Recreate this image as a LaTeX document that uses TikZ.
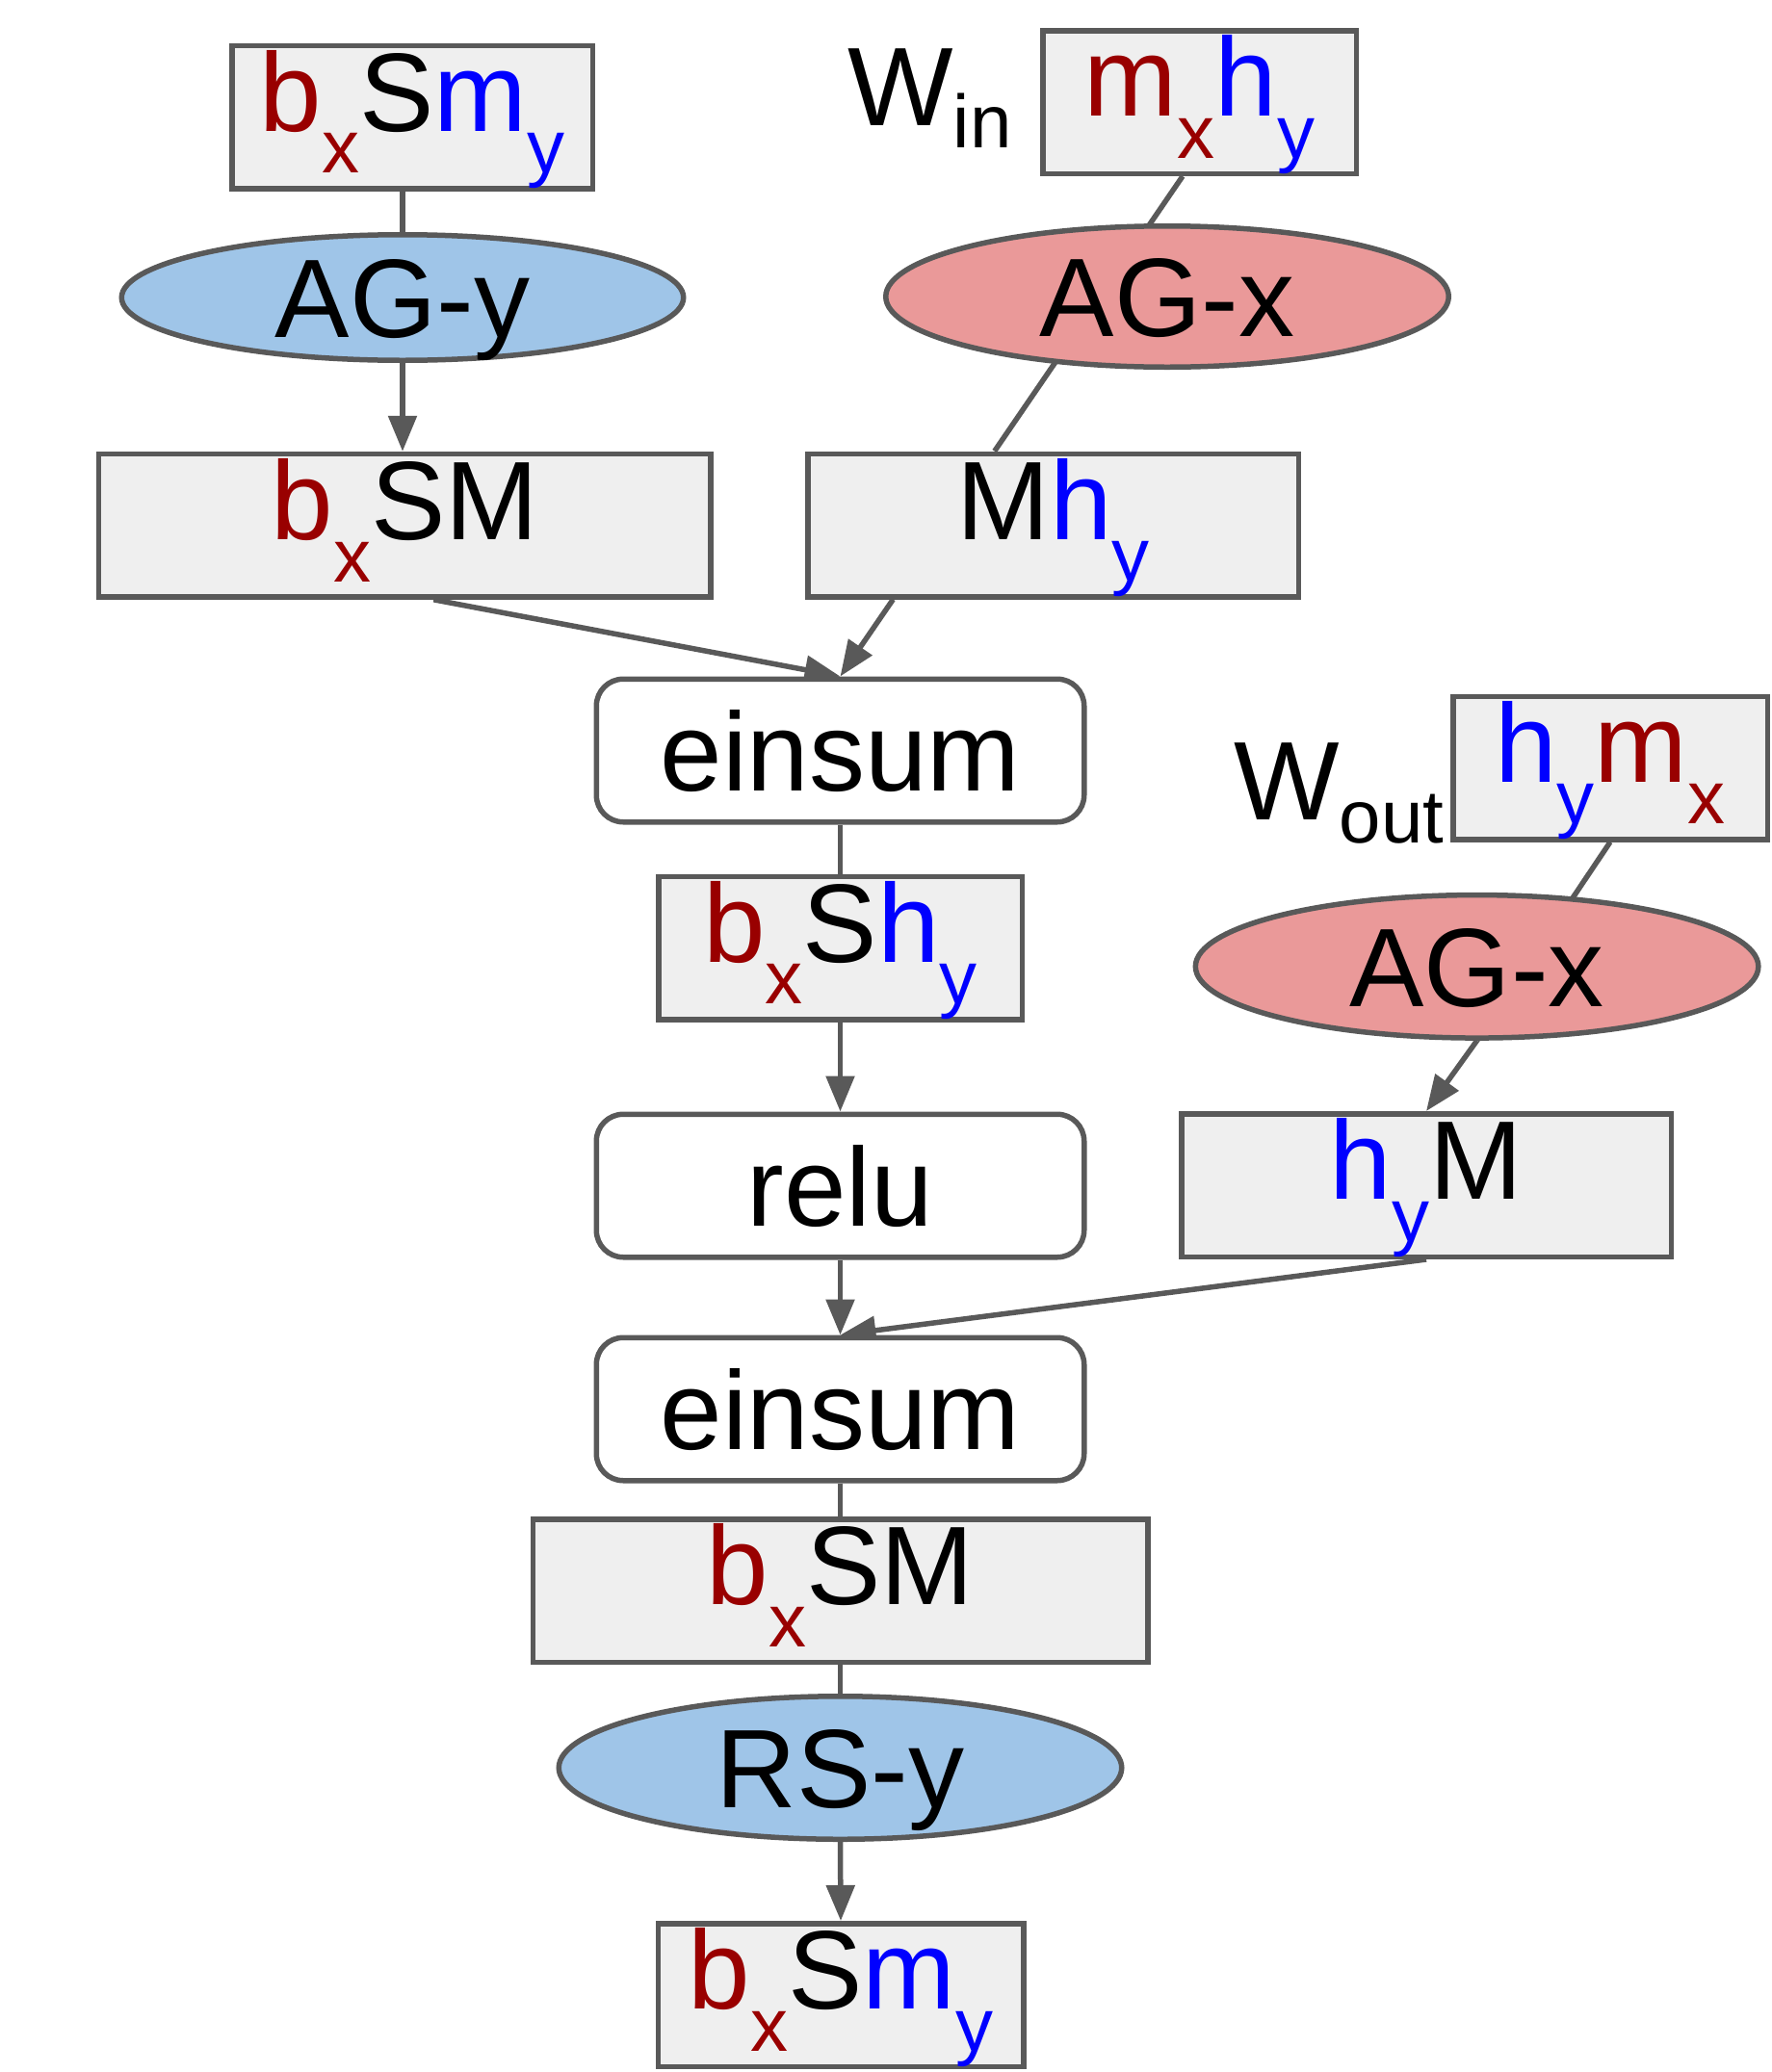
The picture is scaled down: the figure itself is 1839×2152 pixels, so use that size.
\documentclass[tikz,border=0pt]{standalone}
\usepackage{fontspec}
\setmainfont{Liberation Sans}
\usetikzlibrary{shapes.geometric,arrows.meta,backgrounds,calc}
\definecolor{dred}{HTML}{990000}
\definecolor{dblue}{HTML}{0000FF}
\definecolor{edgecol}{HTML}{595959}
\definecolor{boxfill}{HTML}{EFEFEF}
\definecolor{bluefill}{HTML}{9FC5E8}
\definecolor{redfill}{HTML}{EA9999}
\newcommand\rdt[1]{\textcolor{dred}{#1}}
\newcommand\blt[1]{\textcolor{dblue}{#1}}
\newcommand\subrd[1]{\raisebox{-43.5pt}{\fontsize{78}{78}\selectfont\textcolor{dred}{#1}}}
\newcommand\subbl[1]{\raisebox{-43.5pt}{\fontsize{78}{78}\selectfont\textcolor{dblue}{#1}}}
\newcommand\wsub[1]{\raisebox{-23.3pt}{\fontsize{78}{78}\selectfont #1}}
\begin{document}
\begin{tikzpicture}[x=1pt,y=-1pt,
  bigfont/.style={font=\fontsize{116}{116}\selectfont},
  tbox/.style={rectangle, draw=edgecol, line width=5.5pt, fill=boxfill, inner sep=0pt,
     text height=89pt, text depth=59.5pt, minimum height=148.5pt, bigfont},
  rbox/.style={rectangle, draw=edgecol, line width=5.5pt, fill=white, rounded corners=28pt,
     minimum width=506.5pt, minimum height=148.5pt, inner xsep=0pt, inner ysep=32.75pt,
     text height=83pt, text depth=0pt, bigfont},
  oval/.style={ellipse, draw=edgecol, line width=5.5pt, inner sep=0pt,
     text height=83pt, text depth=0pt, bigfont},
  conn/.style={draw=edgecol, line width=5.5pt},
  arr/.style={conn, -{Triangle[length=37pt,width=29pt]}}
]
\useasboundingbox (0,0) rectangle (1839,2152);

% top left column
\node[tbox, minimum width=374.5pt] (b1) at (428,121.5) {\rdt{b}\subrd{x}S\blt{m}\subbl{y}};
\node[oval, fill=bluefill, minimum width=583.5pt, minimum height=130.5pt] (agy) at (418,309) {AG-y};
\node[tbox, minimum width=635.5pt] (bxsm) at (420.3,545.8) {\rdt{b}\subrd{x}SM};

% top right column
\node[anchor=base west, inner sep=0pt, bigfont] (win) at (880,130) {W\wsub{in}};
\node[tbox, minimum width=325.5pt] (mxhy) at (1245.5,106) {\rdt{m}\subrd{x}\blt{h}\subbl{y}};
\node[oval, fill=redfill, minimum width=584.5pt, minimum height=146.5pt] (agx) at (1212,308) {AG-x};
\node[tbox, minimum width=509.5pt] (mhy) at (1093.5,545.5) {M\blt{h}\subbl{y}};

% center column
\node[rbox] (ein1) at (872.5,779.5) {einsum};
\node[tbox, minimum width=377.5pt] (bxshy) at (872.5,984.6) {\rdt{b}\subrd{x}S\blt{h}\subbl{y}};
\node[rbox] (relu) at (872.5,1231.5) {relu};
\node[rbox] (ein2) at (872.5,1463.5) {einsum};
\node[tbox, minimum width=638.5pt] (bxsm2) at (872.5,1652) {\rdt{b}\subrd{x}SM};
\node[oval, fill=bluefill, minimum width=584.5pt, minimum height=148.5pt] (rsy) at (872.5,1836) {RS-y};
\node[tbox, minimum width=379.5pt] (final) at (873,2072) {\rdt{b}\subrd{x}S\blt{m}\subbl{y}};

% right column
\node[anchor=base west, inner sep=0pt, bigfont] (wout) at (1281,851.7) {W\wsub{out}};
\node[tbox, minimum width=326.5pt] (hymx) at (1672,797.5) {\blt{h}\subbl{y}\rdt{m}\subrd{x}};
\node[oval, fill=redfill, minimum width=584.5pt, minimum height=148.5pt] (agx2) at (1533.6,1003.8) {AG-x};
\node[tbox, minimum width=508.5pt] (hym) at (1481,1231) {\blt{h}\subbl{y}M};

\begin{scope}[on background layer]
  \coordinate (winS) at ($(mxhy.south)+(-17.5,0)$);
  \coordinate (e1n) at (ein1.north);
  \coordinate (mnw) at (mhy.north west);
  \coordinate (mne) at (mhy.north east);
  \coordinate (msw) at (mhy.south west);
  \coordinate (mse) at (mhy.south east);
  \coordinate (mhyIn) at (intersection of winS--e1n and mnw--mne);
  \coordinate (mhyOut) at (intersection of winS--e1n and msw--mse);
  \coordinate (bxsmOut) at ($(bxsm.south)+(30,0)$);

  \draw[conn] (b1.south -| agy.north) -- (agy.north);
  \draw[arr] (agy.south) -- (agy.south |- bxsm.north);
  \draw[conn] (winS) -- (mhyIn);
  \draw[arr] (mhyOut) -- (ein1.north);
  \draw[arr] (bxsmOut) -- (ein1.north);
  \draw[conn] (ein1.south) -- (bxshy.north);
  \draw[arr] (bxshy.south) -- (relu.north);
  \draw[arr] (relu.south) -- (ein2.north);
  \draw[conn] (hymx.south) -- (agx2.south);
  \draw[arr] (agx2.south) -- (hym.north);
  \draw[arr] (hym.south) -- (ein2.north);
  \draw[conn] (ein2.south) -- (bxsm2.north);
  \draw[conn] (bxsm2.south) -- (rsy.north);
  \draw[arr] (rsy.south) -- (final.north);
\end{scope}
\end{tikzpicture}
\end{document}
